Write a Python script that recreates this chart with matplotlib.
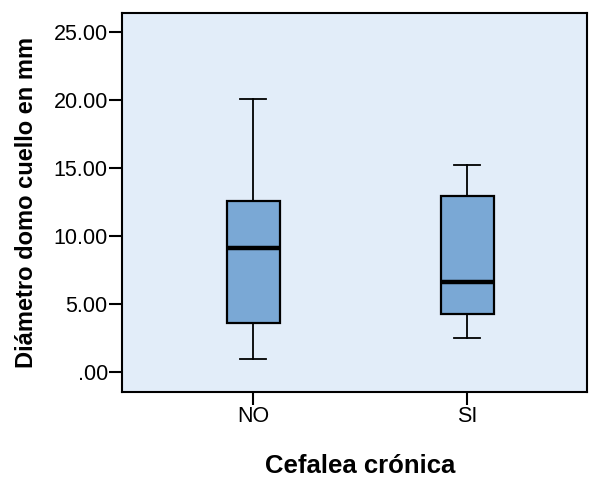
import numpy as np
import matplotlib.pyplot as plt

plt.rcParams['font.family'] = ['Liberation Sans', 'DejaVu Sans']

# box statistics (mm)
groups = ['NO', 'SI']
whislo = [1.0, 2.5]
q1 = [3.65, 4.29]
med = [9.12, 6.66]
q3 = [12.6, 12.99]
whishi = [20.07, 15.22]
yticks = [0, 5, 10, 15, 20, 25]
yticklabels = ['.00', '5.00', '10.00', '15.00', '20.00', '25.00']

stats = []
for i in range(len(groups)):
    stats.append(dict(label=groups[i], whislo=whislo[i], q1=q1[i], med=med[i],
                      q3=q3[i], whishi=whishi[i], fliers=[]))

fig = plt.figure(figsize=(5.91, 4.83), dpi=100)
ax = fig.add_axes([0.207, 0.189, 0.786, 0.7835])
ax.set_facecolor('#E2EDF9')

ax.bxp(stats, positions=[1, 2], widths=0.249, patch_artist=True, showfliers=False,
       boxprops=dict(facecolor='#7AA8D5', edgecolor='black', linewidth=1.6),
       medianprops=dict(color='black', linewidth=3.2),
       whiskerprops=dict(color='black', linewidth=1.3),
       capprops=dict(color='black', linewidth=1.3),
       capwidths=0.122)

ax.set_xlim(0.388, 2.559)
ax.set_ylim(-1.43, 26.4)
ax.set_yticks(yticks)
ax.set_yticklabels(yticklabels)
ax.set_xticks([1, 2])
ax.set_xticklabels(groups)
ax.tick_params(axis='both', direction='out', length=9.5, width=1.5, labelsize=15.5, pad=1)
for s in ax.spines.values():
    s.set_linewidth(1.5)

ax.set_ylabel('Diámetro domo cuello en mm', fontsize=17, fontweight='bold')
ax.yaxis.set_label_coords(-0.181, 0.5)
ax.set_xlabel('Cefalea crónica', fontsize=18.5, fontweight='bold')
ax.xaxis.set_label_coords(0.5115, -0.165)

fig.savefig('out.png', dpi=100)
